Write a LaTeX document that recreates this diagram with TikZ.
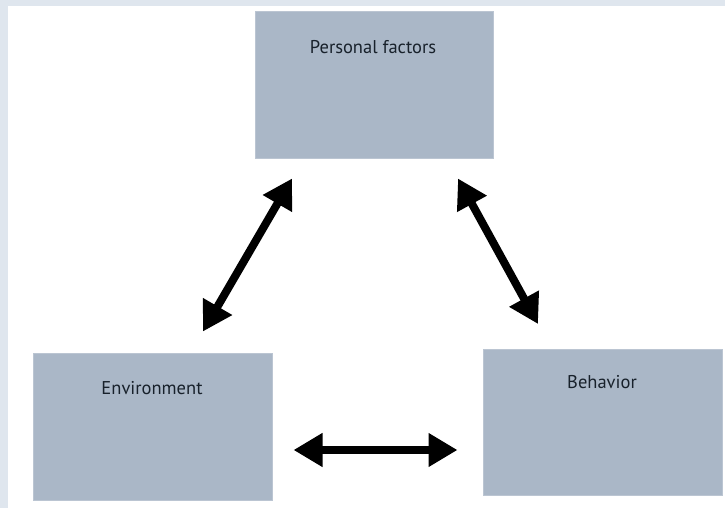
\documentclass[tikz,border=0pt]{standalone}
\usepackage{fontspec}
\setmainfont{PT Sans}
\usetikzlibrary{arrows.meta}
\definecolor{framegrey}{HTML}{DFE6EE}
\definecolor{boxfill}{HTML}{AAB7C7}
\definecolor{txt}{HTML}{18212B}
\begin{document}
\begin{tikzpicture}[x=1pt, y=-1pt,
	box/.style={rectangle, fill=boxfill, draw=boxfill!80!white, line width=1pt, inner sep=0pt},
	lbl/.style={text=txt, font=\fontsize{18.5}{22}\selectfont, inner sep=0pt},
	arr/.style={line width=8pt, draw=black, {Triangle[length=29pt, width=32pt]}-{Triangle[length=29pt, width=32pt]}}]
				\useasboundingbox (0,0) rectangle (725,508);
				\fill[framegrey] (0,0) rectangle (725,508);
				\fill[white] (8,6) rectangle (725,508);
				
				\node[box, minimum width=238pt, minimum height=146pt] (per) at (374,85) {};
				\node[box, minimum width=239pt, minimum height=147pt] (env) at (152.5,426.5) {};
				\node[box, minimum width=239pt, minimum height=146pt] (beh) at (602.5,422.5) {};
				
				\node[lbl] (perlbl) at (373,47) {Personal factors};
				\node[lbl] (envlbl) at (152,388) {Environment};
				\node[lbl] (behlbl) at (602,382) {Behavior};
				
				\path[arr] ([xshift=50.5pt, yshift=21pt]env.north) -- ([xshift=-82pt, yshift=-20pt]per.south);
				\path[arr] ([xshift=84pt, yshift=-20pt]per.south) -- ([xshift=-64.5pt, yshift=25pt]beh.north);
				\path[arr] ([xshift=21pt, yshift=-23.5pt]env.east) -- ([xshift=-25pt, yshift=-27.5pt]beh.west);
				\end{tikzpicture}
\end{document}
